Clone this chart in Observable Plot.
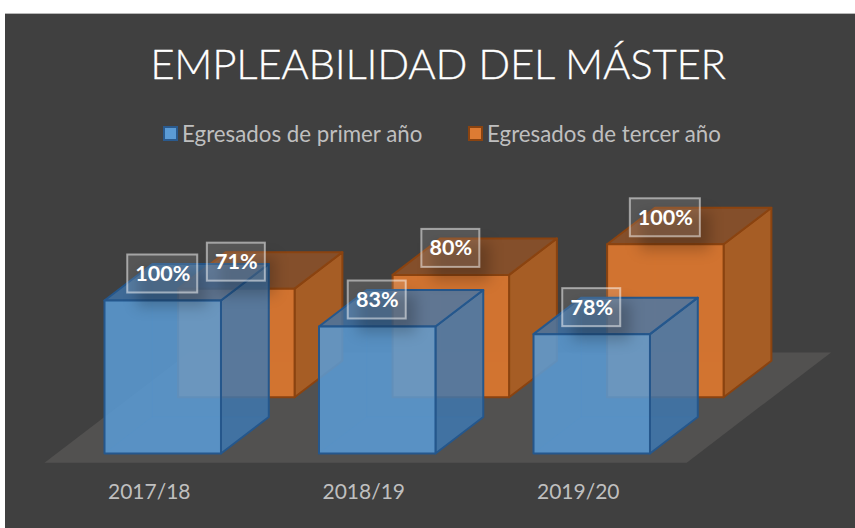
<!DOCTYPE html>
<html lang="es">
<head>
<meta charset="utf-8">
<script src="https://cdn.jsdelivr.net/npm/d3@7"></script>
<script src="https://cdn.jsdelivr.net/npm/@observablehq/plot@0.6"></script>
<style>
  html, body { margin: 0; padding: 0; background: #fff; width: 855px; height: 528px; overflow: hidden; }
  #panel { position: absolute; left: 5px; top: 13px; width: 850px; height: 515px; background: #404040;
           border-top: 1px solid #b8b8b8; box-sizing: border-box; font-family: Lato, sans-serif; }
  #title { position: absolute; left: 0; width: 866px; top: 24px; text-align: center; color: #fff;
           font-size: 42px; line-height: 50px; font-weight: 300; letter-spacing: -0.25px; white-space: nowrap;
           -webkit-text-stroke: 0.3px #fff; }
  #legend { position: absolute; top: 105px; left: 0; height: 28px; width: 850px; color: #bfbfbf; font-size: 22.3px; }
  .item { position: absolute; top: 0; display: flex; align-items: center; height: 28px; white-space: nowrap; }
  .sw { width: 11px; height: 11px; border: 2px solid; margin-right: 4px; display: inline-block; }
  #plot { position: absolute; left: 0; top: 156px; }
</style>
</head>
<body>
<div id="panel">
  <div id="title"></div>
  <div id="legend"></div>
  <div id="plot"></div>
</div>
<script>
const titleText = "EMPLEABILIDAD DEL MÁSTER";
const categories = ["2017/18", "2018/19", "2019/20"];
const seriesNames = ["Egresados de primer año", "Egresados de tercer año"];
const primerAnio = [100, 83, 78];
const tercerAnio = [71, 80, 100];
const seriesValues = [primerAnio, tercerAnio];

const barWidth = 0.543;
const seriesZ = [0, 1.54];
const zx = 47.8 / 214.5, zy = 36.5 / 1.53;
const px = (u, z) => u + z * zx;
const py = (v, z) => v + z * zy;

const styles = [
  { legend: "#5b9bd5", legendStroke: "#2a5a8e", stroke: "#25578c", faces: {
      back:   ["#5b9bd5", 0.10], left: ["#5b9bd5", 0.10], bottom: ["#5b9bd5", 0.15],
      right:  ["#3d78b1", 0.80], top: ["#3f75ad", 0.75], front: ["#5b9bd5", 0.85] } },
  { legend: "#dd7b33", legendStroke: "#8a4310", stroke: "#8a4310", faces: {
      back:   ["#ed7d31", 0.10], left: ["#ed7d31", 0.10], bottom: ["#ed7d31", 0.15],
      right:  ["#a65d25", 1], top: ["#87502a", 0.95], front: ["#d6752f", 0.97] } }
];

function faceRows(u, v, z) {
  const p = (a, h, d) => ({ x: px(u + a * barWidth, z + d), y: py(h * v, z + d) });
  const quad = (...q) => [...q, q[0]].map(([a, h, d]) => p(a, h, d));
  return {
    back:   quad([0,0,1],[1,0,1],[1,1,1],[0,1,1]),
    left:   quad([0,0,0],[0,0,1],[0,1,1],[0,1,0]),
    bottom: quad([0,0,0],[1,0,0],[1,0,1],[0,0,1]),
    right:  quad([1,0,0],[1,0,1],[1,1,1],[1,1,0]),
    top:    quad([0,1,0],[1,1,0],[1,1,1],[0,1,1]),
    front:  quad([0,0,0],[1,0,0],[1,1,0],[0,1,0])
  };
}

const faceOrder = ["back", "left", "bottom", "right", "top", "front"];
const barMarks = [1, 0].flatMap(s =>
  faceOrder.map(face => {
    const rows = categories.flatMap((c, i) =>
      faceRows(i, seriesValues[s][i], seriesZ[s])[face].map(r => ({ ...r, bar: c })));
    const [fill, fillOpacity] = styles[s].faces[face];
    const inner = face === "back" || face === "left" || face === "bottom";
    return Plot.line(rows, { x: "x", y: "y", z: "bar", fill, fillOpacity,
      stroke: styles[s].stroke, strokeWidth: inner ? 1 : 2, strokeOpacity: inner ? 0.2 : 1, strokeLinejoin: "round" });
  })
);

const floorZ = [-0.25, 2.77], floorU = [-0.224, 2.77];
const floor = [[0,0],[1,0],[1,1],[0,1],[0,0]].map(([a, b]) => ({
  x: px(floorU[a], floorZ[b]), y: py(0, floorZ[b]) }));

const labelRows = [0, 1].flatMap(s => categories.map((c, i) => {
  const v = seriesValues[s][i];
  const text = v + "%";
  const halfW = (text.length > 3 ? 35 : 29) / 214.5;
  const cx = px(i + barWidth / 2, seriesZ[s]);
  const cy = py(v, seriesZ[s]) + 26.5 / 1.53;
  return { text, cx, cy, x1: cx - halfW, x2: cx + halfW, y1: cy - 19 / 1.53, y2: cy + 19 / 1.53 };
}));

const shadowRows = labelRows.map(d => ({
  x1: d.x1 + 10 / 214.5, x2: d.x2 + 10 / 214.5, y1: d.y1 - 14 / 1.53, y2: d.y2 - 14 / 1.53 }));

const chart = Plot.plot({
  width: 850,
  height: 358,
  marginTop: 0, marginRight: 0, marginBottom: 66, marginLeft: 0,
  x: { type: "linear", domain: [0, 1], range: [99, 313.5], axis: null },
  y: { type: "linear", domain: [0, 100], range: [283, 130], axis: null },
  style: { background: "transparent", fontFamily: "Lato, sans-serif", overflow: "visible" },
  marks: [
    Plot.line(floor, { x: "x", y: "y", fill: "#525150", stroke: "none" }),
    ...barMarks,
    Plot.rect(shadowRows, { x1: "x1", x2: "x2", y1: "y1", y2: "y2", fill: "#000", fillOpacity: 0.22, imageFilter: "blur(7px)" }),
    Plot.rect(labelRows, { x1: "x1", x2: "x2", y1: "y1", y2: "y2", fill: "#fff", fillOpacity: 0.12, stroke: "#fff", strokeOpacity: 0.5, strokeWidth: 2 }),
    Plot.text(labelRows, { x: "cx", y: "cy", text: "text", fill: "#fff", fontWeight: 700, fontSize: 21.5 }),
    Plot.axisX({
      ticks: categories.map((c, i) => i + barWidth / 2),
      tickFormat: d => categories[Math.round(d - barWidth / 2)],
      tickSize: 0, tickPadding: 22, dx: -13.5,
      color: "#bfbfbf", fontSize: 21, label: null, anchor: "bottom"
    })
  ]
});
document.getElementById("plot").appendChild(chart);

document.getElementById("title").textContent = titleText;
const legendX = [158, 463];
const legend = document.getElementById("legend");
seriesNames.forEach((name, s) => {
  const item = document.createElement("div");
  item.className = "item";
  item.style.left = legendX[s] + "px";
  const sw = document.createElement("span");
  sw.className = "sw";
  sw.style.background = styles[s].legend;
  sw.style.borderColor = styles[s].legendStroke;
  item.appendChild(sw);
  item.appendChild(document.createTextNode(name));
  legend.appendChild(item);
});
</script>
</body>
</html>
